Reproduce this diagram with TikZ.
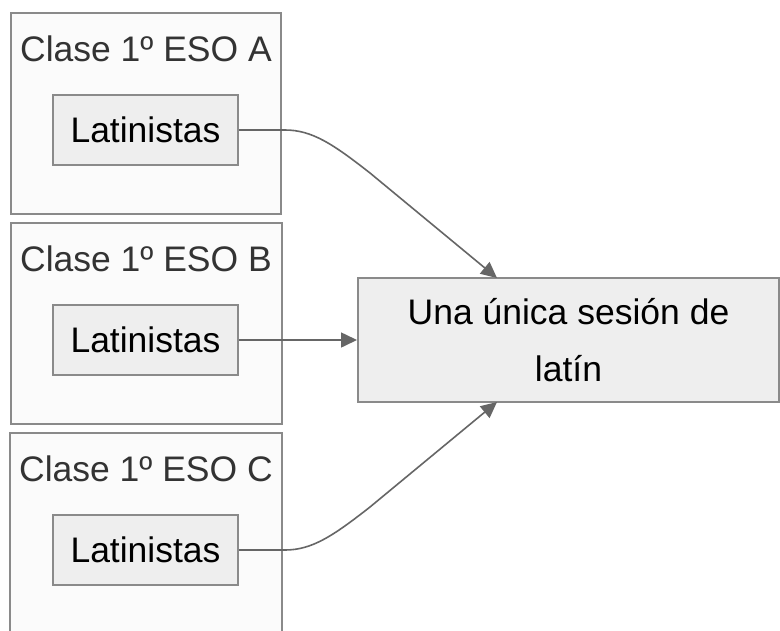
\documentclass[tikz,border=0pt]{standalone}
\usepackage{fontspec}
\setmainfont{Liberation Sans}
\usetikzlibrary{arrows.meta}
\definecolor{bordergray}{HTML}{8A8A8A}
\definecolor{outerfill}{HTML}{FBFBFB}
\definecolor{innerfill}{HTML}{EEEEEE}
\definecolor{titlegray}{HTML}{333333}
\definecolor{edgegray}{HTML}{666666}
\begin{document}
\begin{tikzpicture}[x=1pt,y=-1pt,
  every node/.style={font=\fontsize{35.5}{57}\selectfont},
  classbox/.style={draw=bordergray, line width=2pt, fill=outerfill, inner sep=0pt, minimum height=201pt},
  classtitle/.style={text=titlegray, inner sep=0pt},
  latbox/.style={draw=bordergray, line width=2pt, fill=innerfill, inner sep=0pt, minimum width=185pt, minimum height=70pt, text=black},
  sesbox/.style={draw=bordergray, line width=2pt, fill=innerfill, inner sep=0pt, minimum width=421pt, minimum height=124pt, align=center, text=black},
  edge/.style={draw=edgegray, line width=1.6pt, -{Triangle[length=16pt,width=15pt]}}
]
\useasboundingbox (0,0) rectangle (780,630);
\clip (0,0) rectangle (780,630);
\fill[white] (0,0) rectangle (780,630);

\node[classbox, minimum width=270pt] (ca) at (146,113.5) {};
\node[classbox, minimum width=271pt] (cb) at (146.5,323.5) {};
\node[classbox, minimum width=272pt] (cc) at (146,533.5) {};

\node[classtitle] (ta) at (146,49) {Clase 1º ESO A};
\node[classtitle] (tb) at (146,259) {Clase 1º ESO B};
\node[classtitle] (tc) at (146,469) {Clase 1º ESO C};

\node[latbox] (la) at (145.5,130) {Latinistas};
\node[latbox] (lb) at (145.5,340) {Latinistas};
\node[latbox] (lc) at (145.5,550) {Latinistas};

\node[sesbox] (ses) at (568.5,340) {Una única sesión de\\latín};

\coordinate (tA) at (497,278);
\coordinate (tC) at (497,402);

\draw[edge] (la.east) -- (285,130) .. controls (312,130) and (333,144) .. (370,173) -- (tA);
\draw[edge] (lb.east) -- (ses.west);
\draw[edge] (lc.east) -- (285,550) .. controls (312,550) and (333,536) .. (370,507) -- (tC);
\end{tikzpicture}
\end{document}
